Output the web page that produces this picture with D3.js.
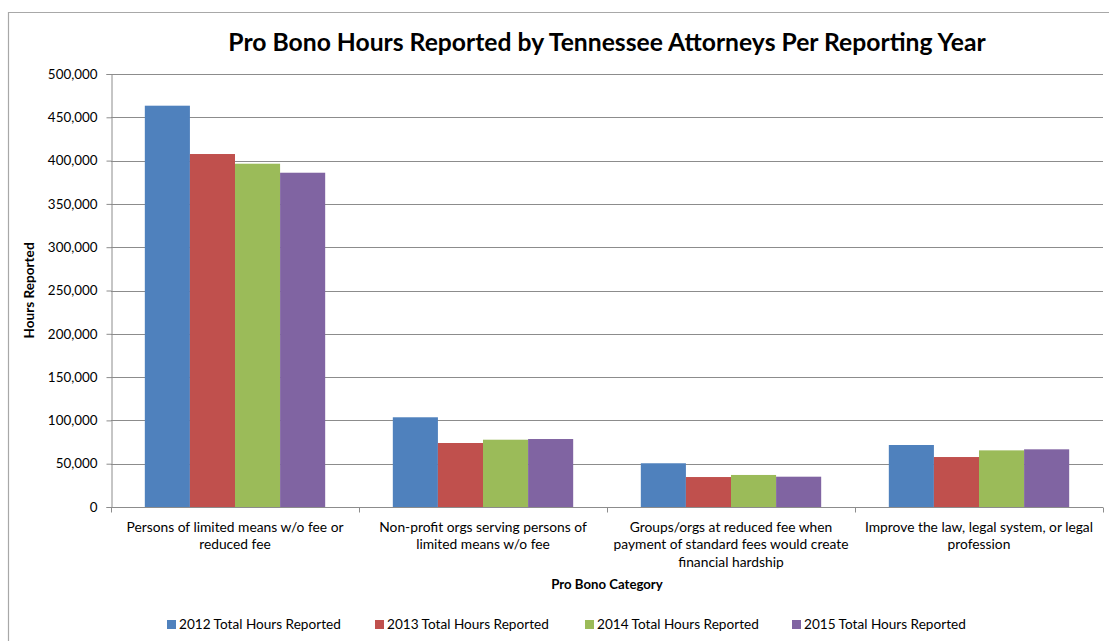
<!DOCTYPE html>
<html>
<head>
<meta charset="utf-8">
<script src="https://cdn.jsdelivr.net/npm/d3@7"></script>
<style>
  html, body { margin: 0; padding: 0; background: #fff; }
  svg { display: block; font-family: Lato, "Open Sans", sans-serif; }
</style>
</head>
<body>
<svg id="chart" width="1109" height="641"></svg>
<script>
// ---- Data ----
const title = "Pro Bono Hours Reported by Tennessee Attorneys Per Reporting Year";
const yAxisTitle = "Hours Reported";
const xAxisTitle = "Pro Bono Category";
const categories = [
  "Persons of limited means w/o fee or\nreduced fee",
  "Non-profit orgs serving persons of\nlimited means w/o fee",
  "Groups/orgs at reduced fee when\npayment of standard fees would create\nfinancial hardship",
  "Improve the law, legal system, or legal\nprofession"
];
const seriesNames = [
  "2012 Total Hours Reported",
  "2013 Total Hours Reported",
  "2014 Total Hours Reported",
  "2015 Total Hours Reported"
];
const values2012 = [463400, 103600, 50500, 71600];
const values2013 = [407600, 73900, 34600, 57700];
const values2014 = [396400, 77700, 37000, 65400];
const values2015 = [386000, 78500, 35000, 66600];
const yTicks = [0, 50000, 100000, 150000, 200000, 250000, 300000, 350000, 400000, 450000, 500000];
const colors = ["#4F81BD", "#C0504D", "#9BBB59", "#8064A2"];

const seriesValues = [values2012, values2013, values2014, values2015];

// ---- Layout ----
const svg = d3.select("#chart");
const plot = { left: 111, right: 1103, top: 74, bottom: 507 };

// chart border (top + left)
svg.append("path")
  .attr("d", "M8.5,641 V12.5 H1109")
  .attr("fill", "none")
  .attr("stroke", "#a8a8a8")
  .attr("stroke-width", 1.2);

const x0 = d3.scaleBand().domain(categories).range([plot.left, plot.right]).paddingInner(0).paddingOuter(0);
const x1 = d3.scaleBand().domain(seriesNames).range([0, x0.bandwidth()]).paddingInner(0).paddingOuter(0.75);
const y = d3.scaleLinear().domain([0, 500000]).range([plot.bottom, plot.top]);

// gridlines
svg.append("g")
  .selectAll("line")
  .data(yTicks.filter(d => d > 0))
  .join("line")
  .attr("x1", plot.left).attr("x2", plot.right)
  .attr("y1", d => Math.round(y(d)) + 0.5).attr("y2", d => Math.round(y(d)) + 0.5)
  .attr("stroke", "#8c8c8c").attr("stroke-width", 1);

// bars
const groups = svg.append("g").selectAll("g")
  .data(categories)
  .join("g")
  .attr("transform", d => `translate(${x0(d)},0)`);

groups.selectAll("rect")
  .data((d, i) => seriesNames.map((s, j) => ({ s, j, v: seriesValues[j][i] })))
  .join("rect")
  .attr("x", d => x1(d.s))
  .attr("width", x1.bandwidth())
  .attr("y", d => y(d.v))
  .attr("height", d => y(0) - y(d.v))
  .attr("fill", d => colors[d.j]);

// y axis
const yAxis = d3.axisLeft(y).tickValues(yTicks).tickFormat(d3.format(",")).tickSizeOuter(0).tickSize(5).tickPadding(9);
const gy = svg.append("g").attr("transform", `translate(${plot.left + 0.5},0)`).call(yAxis);
gy.select(".domain").attr("stroke", "#8c8c8c");
gy.selectAll(".tick line").attr("stroke", "#8c8c8c");
gy.selectAll(".tick text").attr("font-size", 13.4).attr("fill", "#000").attr("font-family", "Lato, sans-serif");

// x axis
const gx = svg.append("g").attr("transform", `translate(0,${plot.bottom + 0.5})`);
gx.append("line").attr("x1", plot.left).attr("x2", plot.right).attr("stroke", "#8c8c8c");
gx.selectAll("line.tk")
  .data([...categories.map(c => x0(c)), plot.right])
  .join("line").attr("class", "tk")
  .attr("x1", d => Math.round(d) + 0.5).attr("x2", d => Math.round(d) + 0.5)
  .attr("y1", 0).attr("y2", 5)
  .attr("stroke", "#8c8c8c");

const catText = gx.selectAll("text.cat")
  .data(categories)
  .join("text").attr("class", "cat")
  .attr("text-anchor", "middle")
  .attr("font-size", 13.8)
  .attr("fill", "#000");
catText.each(function(d) {
  const t = d3.select(this);
  const cx = x0(d) + x0.bandwidth() / 2;
  d.split("\n").forEach((line, k) => {
    t.append("tspan").attr("x", cx).attr("y", 24 + k * 17.7).text(line);
  });
});

// axis titles
svg.append("text")
  .attr("x", (plot.left + plot.right) / 2).attr("y", 589)
  .attr("text-anchor", "middle").attr("font-weight", "bold").attr("font-size", 13.2)
  .text(xAxisTitle);

svg.append("text")
  .attr("transform", `translate(34,${(plot.top + plot.bottom) / 2}) rotate(-90)`)
  .attr("text-anchor", "middle").attr("font-weight", "bold").attr("font-size", 13.6)
  .text(yAxisTitle);

// title
svg.append("text")
  .attr("x", (plot.left + plot.right) / 2).attr("y", 51)
  .attr("text-anchor", "middle").attr("font-weight", "bold").attr("font-size", 24.7)
  .attr("fill", "#000")
  .text(title);

// legend
const legendX = [167, 375, 585, 792];
const lg = svg.append("g").selectAll("g")
  .data(seriesNames)
  .join("g")
  .attr("transform", (d, i) => `translate(${legendX[i]},620)`);
lg.append("rect").attr("width", 9).attr("height", 9).attr("fill", (d, i) => colors[i]);
lg.append("text").attr("x", 12).attr("y", 9).attr("font-size", 13.6).attr("fill", "#000").text(d => d);
</script>
</body>
</html>
